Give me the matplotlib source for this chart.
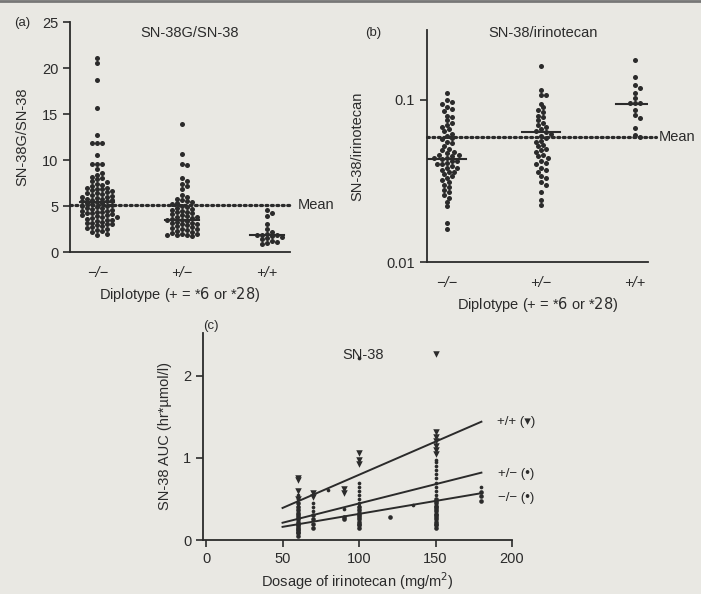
import numpy as np
import matplotlib.pyplot as plt

plt.rcParams['font.family'] = ['Liberation Sans', 'DejaVu Sans']

# ---- data ----
diplotypes = ['\u2212/\u2212', '+/\u2212', '+/+']

# (a) SN-38G/SN-38 ratio per diplotype
ratio_mm = [21.1, 20.5, 18.7, 15.6, 12.7, 11.9, 11.9, 11.9, 10.5, 9.6, 9.6, 9.6,
            9.0, 8.6, 8.4, 8.2, 8.0, 7.9, 7.7, 7.6, 7.4, 7.3, 7.2, 7.0, 7.0, 6.9,
            6.8, 6.7, 6.6, 6.5, 6.4, 6.4, 6.3, 6.2, 6.1, 6.0, 6.0, 5.9, 5.8, 5.8,
            5.7, 5.6, 5.5, 5.5, 5.4, 5.3, 5.3, 5.2, 5.1, 5.0, 5.0, 4.9, 4.8, 4.8,
            4.7, 4.6, 4.5, 4.5, 4.4, 4.3, 4.2, 4.2, 4.1, 4.0, 4.0, 3.9, 3.8, 3.8,
            3.7, 3.6, 3.5, 3.5, 3.4, 3.3, 3.2, 3.1, 3.0, 3.0, 2.9, 2.8, 2.7, 2.6,
            2.5, 2.4, 2.3, 2.2, 2.0, 1.9]
ratio_pm = [13.9, 10.6, 9.6, 9.5, 8.0, 7.7, 7.4, 7.2, 6.9, 6.2, 6.0, 5.8, 5.6,
            5.5, 5.4, 5.3, 5.2, 5.0, 4.9, 4.8, 4.7, 4.6, 4.5, 4.4, 4.3, 4.2, 4.1,
            4.0, 3.9, 3.8, 3.8, 3.7, 3.6, 3.5, 3.5, 3.4, 3.3, 3.2, 3.1, 3.0, 3.0,
            2.9, 2.8, 2.7, 2.6, 2.5, 2.5, 2.4, 2.3, 2.2, 2.1, 2.0, 2.0, 1.9, 1.8,
            1.8, 1.7]
ratio_pp = [4.6, 4.2, 3.9, 3.0, 2.5, 2.2, 2.0, 1.9, 1.8, 1.8, 1.7, 1.6, 1.5,
            1.4, 1.2, 1.1, 1.0, 0.9]
ratio_median = [5.4, 3.5, 1.85]
ratio_mean = 5.1

# (b) SN-38/irinotecan ratio per diplotype (log axis)
conv_mm = [0.11, 0.1, 0.097, 0.095, 0.09, 0.088, 0.085, 0.08, 0.078, 0.075,
           0.072, 0.07, 0.068, 0.066, 0.064, 0.062, 0.06, 0.058, 0.057, 0.055,
           0.054, 0.052, 0.05, 0.049, 0.048, 0.047, 0.046, 0.046, 0.045, 0.044,
           0.044, 0.043, 0.042, 0.042, 0.041, 0.040, 0.040, 0.039, 0.038,
           0.038, 0.037, 0.036, 0.036, 0.035, 0.034, 0.033, 0.032, 0.031,
           0.030, 0.029, 0.028, 0.027, 0.026, 0.025, 0.0235, 0.022, 0.0174,
           0.016]
conv_pm = [0.162, 0.115, 0.107, 0.107, 0.095, 0.09, 0.087, 0.084, 0.08, 0.078,
           0.075, 0.072, 0.07, 0.068, 0.066, 0.064, 0.063, 0.062, 0.06, 0.058,
           0.056, 0.055, 0.053, 0.052, 0.05, 0.049, 0.048, 0.046, 0.045, 0.044,
           0.042, 0.041, 0.04, 0.038, 0.037, 0.036, 0.034, 0.033, 0.031, 0.03,
           0.027, 0.024, 0.0225]
conv_pp = [0.177, 0.139, 0.124, 0.118, 0.11, 0.103, 0.096, 0.096, 0.096, 0.087,
           0.081, 0.077, 0.067, 0.061, 0.059]
conv_median = [0.043, 0.063, 0.095]
conv_mean = 0.059

# (c) SN-38 AUC vs dose, by diplotype
dose_mm = [60] * 16 + [70] * 4 + [90] * 2 + [100] * 10 + [120] + [150] * 15 + [180] * 3
auc_mm = [0.05, 0.08, 0.1, 0.12, 0.14, 0.16, 0.18, 0.2, 0.22, 0.25, 0.28, 0.3,
          0.33, 0.36, 0.4, 0.45,
          0.15, 0.2, 0.25, 0.3,
          0.25, 0.28,
          0.15, 0.18, 0.2, 0.22, 0.25, 0.28, 0.3, 0.33, 0.36, 0.4,
          0.28,
          0.15, 0.18, 0.2, 0.22, 0.25, 0.28, 0.3, 0.32, 0.35, 0.38, 0.4, 0.42,
          0.45, 0.48, 0.5,
          0.48, 0.53, 0.58]
dose_pm = [60] * 9 + [70] * 3 + [80] + [90] + [100] * 10 + [135] + [150] * 10 + [180]
auc_pm = [0.1, 0.15, 0.2, 0.26, 0.32, 0.38, 0.42, 0.5, 0.55,
          0.35, 0.4, 0.45,
          0.61,
          0.38,
          0.3, 0.38, 0.42, 0.45, 0.5, 0.55, 0.6, 0.65, 0.7, 2.22,
          0.43,
          0.55, 0.6, 0.65, 0.7, 0.75, 0.8, 0.85, 0.9, 0.95, 0.98,
          0.64]
dose_pp = [60] * 4 + [70] * 2 + [90] * 2 + [100] * 3 + [150] * 7
auc_pp = [0.76, 0.73, 0.6, 0.5,
          0.52, 0.57,
          0.57, 0.62,
          0.92, 0.97, 1.06,
          1.05, 1.1, 1.15, 1.2, 1.25, 1.32, 2.26]
fit_dose = [50, 180]
fit_pp = [0.39, 1.44]
fit_pm = [0.21, 0.82]
fit_mm = [0.16, 0.57]

# ---- figure ----
W, H = 701, 594
ink = '#2b2b2b'
fig = plt.figure(figsize=(W / 100, H / 100), dpi=100, facecolor='#e9e8e3')


def px_axes(l, t, r, b):
    ax = fig.add_axes([l / W, 1 - b / H, (r - l) / W, (b - t) / H])
    ax.set_facecolor('none')
    for s in ['top', 'right']:
        ax.spines[s].set_visible(False)
    for s in ['left', 'bottom']:
        ax.spines[s].set_color(ink)
        ax.spines[s].set_linewidth(1.3)
    ax.tick_params(colors=ink, labelsize=10.5, width=1.2, length=5)
    return ax


def swarm(ax, values, center, d=5.0):
    # simple deterministic beeswarm in pixel space
    px_per_x = ax.transData.transform((1, 0))[0] - ax.transData.transform((0, 0))[0]
    ys = [ax.transData.transform((0, v))[1] for v in values]
    placed = []
    xs = []
    for y in ys:
        k = 0
        while True:
            cands = [0.0] if k == 0 else [k * d * 0.5, -k * d * 0.5]
            ok = None
            for c in cands:
                if all((c - px) ** 2 + (y - py) ** 2 >= d * d * 0.8 for px, py in placed):
                    ok = c
                    break
            if ok is not None:
                placed.append((ok, y))
                xs.append(center + ok / px_per_x)
                break
            k += 1
    ax.scatter(xs, values, s=13, color=ink, linewidths=0, clip_on=False, zorder=3)


def mean_line(ax, y, x0, x1):
    ax.plot([x0, x1], [y, y], color=ink, lw=2.3, ls=(0, (0.6, 1.1)),
            dash_capstyle='round', clip_on=False, zorder=2)


def median_bars(ax, meds):
    for i, m in enumerate(meds):
        ax.plot([i - 0.2, i + 0.2], [m, m], color=ink, lw=1.5, zorder=4)


# (a)
axa = px_axes(70, 22, 290, 252)
axa.set_xlim(-0.32, 2.27)
axa.set_ylim(0, 25)
axa.set_yticks([0, 5, 10, 15, 20, 25])
axa.set_xticks([0, 1, 2])
axa.set_xticklabels(diplotypes, fontstyle='italic')
axa.tick_params(axis='x', length=0, pad=10)
for i, vals in enumerate([ratio_mm, ratio_pm, ratio_pp]):
    swarm(axa, vals, i)
median_bars(axa, ratio_median)
mean_line(axa, ratio_mean, -0.32, 2.27)
axa.text(2.36, ratio_mean, 'Mean', fontsize=10.5, color=ink, va='center')
axa.set_ylabel('SN-38G/SN-38', fontsize=10.5, color=ink, labelpad=9)
axa.set_xlabel('Diplotype (+ = *$\\it{6}$ or *$\\it{28}$)', fontsize=10.5, color=ink, labelpad=4)
fig.text(190 / W, 1 - 33 / H, 'SN-38G/SN-38', ha='center', va='center', fontsize=10.5, color=ink)
fig.text(22 / W, 1 - 23 / H, '(a)', ha='center', va='center', fontsize=9.5, color=ink)

# (b)
axb = px_axes(427, 30, 648, 262)
axb.set_yscale('log')
axb.set_xlim(-0.21, 2.14)
axb.set_ylim(0.01, 0.27)
axb.set_yticks([0.01, 0.1])
axb.set_yticklabels(['0.01', '0.1'])
axb.minorticks_off()
axb.set_xticks([0, 1, 2])
axb.set_xticklabels(diplotypes, fontstyle='italic')
axb.tick_params(axis='x', length=0, pad=10)
for i, vals in enumerate([conv_mm, conv_pm, conv_pp]):
    swarm(axb, vals, i)
median_bars(axb, conv_median)
mean_line(axb, conv_mean, -0.21, 2.22)
axb.text(2.25, conv_mean, 'Mean', fontsize=10.5, color=ink, va='center', clip_on=False)
axb.set_ylabel('SN-38/irinotecan', fontsize=10.5, color=ink, labelpad=16)
axb.set_xlabel('Diplotype (+ = *$\\it{6}$ or *$\\it{28}$)', fontsize=10.5, color=ink, labelpad=4)
fig.text(543 / W, 1 - 33 / H, 'SN-38/irinotecan', ha='center', va='center', fontsize=10.5, color=ink)
fig.text(373 / W, 1 - 33 / H, '(b)', ha='center', va='center', fontsize=9.5, color=ink)

# (c)
axc = px_axes(203, 333, 512, 540)
axc.set_xlim(-2, 200)
axc.set_ylim(0, 2.52)
axc.set_xticks([0, 50, 100, 150, 200])
axc.set_yticks([0, 1, 2])
axc.scatter(dose_mm, auc_mm, s=11, color=ink, linewidths=0, zorder=3)
axc.scatter(dose_pm, auc_pm, s=7, color=ink, linewidths=0, zorder=3)
axc.scatter(dose_pp, auc_pp, s=22, marker='v', color=ink, linewidths=0, zorder=3)
axc.plot(fit_dose, fit_pp, color=ink, lw=1.4)
axc.plot(fit_dose, fit_pm, color=ink, lw=1.4)
axc.plot(fit_dose, fit_mm, color=ink, lw=1.4)
axc.text(190, fit_pp[1], '+/+ (\u25be)', fontsize=9.5, color=ink, va='center')
axc.text(191, fit_pm[1] - 0.02, '+/\u2212 (\u2022)', fontsize=9.5, color=ink, va='center')
axc.text(191, fit_mm[1] - 0.06, '\u2212/\u2212 (\u2022)', fontsize=9.5, color=ink, va='center')
axc.set_ylabel('SN-38 AUC (hr*\u00b5mol/l)', fontsize=10.5, color=ink, labelpad=8)
axc.set_xlabel('Dosage of irinotecan (mg/m$^2$)', fontsize=10.5, color=ink, labelpad=3)
fig.text(363 / W, 1 - 355 / H, 'SN-38', ha='center', va='center', fontsize=10.5, color=ink)
fig.text(211 / W, 1 - 326 / H, '(c)', ha='center', va='center', fontsize=9.5, color=ink)

# dark edge at the top of the scan
fig.add_artist(plt.Line2D([0, 1], [1 - 1 / H, 1 - 1 / H], color='#777777', lw=2))

fig.savefig('out.png', dpi=100, facecolor=fig.get_facecolor())
